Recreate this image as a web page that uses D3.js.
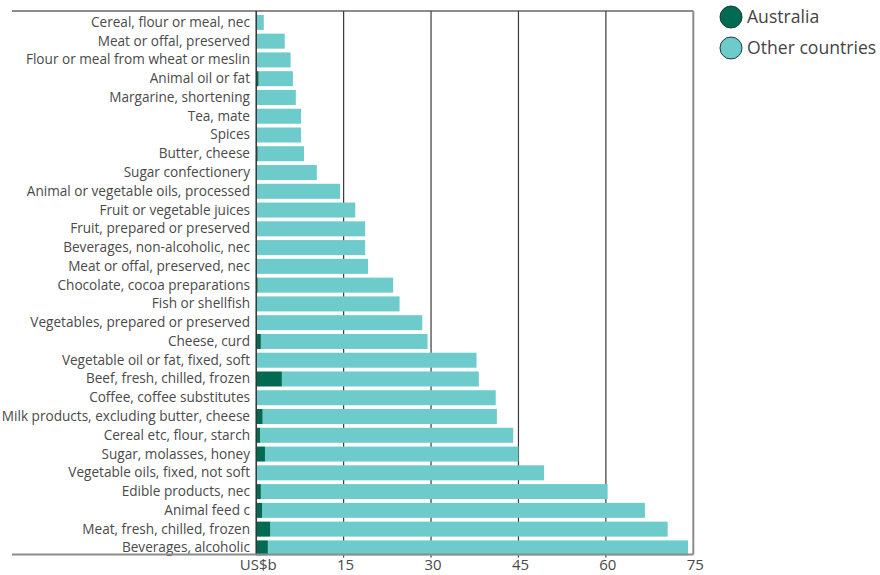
<!DOCTYPE html>
<html><head><meta charset="utf-8">
<script src="https://cdn.jsdelivr.net/npm/d3@7"></script>
<style>
html,body{margin:0;padding:0;background:#fff;}
svg{display:block;}
text{font-family:"Open Sans",sans-serif;}
</style></head>
<body>
<script>
const categories = [
  "Cereal, flour or meal, nec","Meat or offal, preserved","Flour or meal from wheat or meslin",
  "Animal oil or fat","Margarine, shortening","Tea, mate","Spices","Butter, cheese",
  "Sugar confectionery","Animal or vegetable oils, processed","Fruit or vegetable juices",
  "Fruit, prepared or preserved","Beverages, non-alcoholic, nec","Meat or offal, preserved, nec",
  "Chocolate, cocoa preparations","Fish or shellfish","Vegetables, prepared or preserved",
  "Cheese, curd","Vegetable oil or fat, fixed, soft","Beef, fresh, chilled, frozen",
  "Coffee, coffee substitutes","Milk products, excluding butter, cheese","Cereal etc, flour, starch",
  "Sugar, molasses, honey","Vegetable oils, fixed, not soft","Edible products, nec","Animal feed c",
  "Meat, fresh, chilled, frozen","Beverages, alcoholic"
];
const australia = [0,0,0,0.4,0,0,0,0.25,0,0,0,0,0,0,0.25,0,0,0.8,0,4.4,0,1.1,0.65,1.5,0,0.8,1.0,2.4,2.0];
const otherCountries = [1.3,4.9,5.9,5.9,6.8,7.7,7.7,7.95,10.4,14.4,17.0,18.7,18.7,19.2,23.25,24.6,28.5,28.6,37.8,33.8,41.1,40.2,43.45,43.5,49.4,59.5,65.7,68.2,72.1];
const tickValues = [15,30,45,60,75];
const seriesNames = ["Australia","Other countries"];
const colors = ["#006a52","#6ecbcc"];

const W=880,H=575;
const svg=d3.select("body").append("svg").attr("width",W).attr("height",H);
const x=d3.scaleLinear().domain([0,75]).range([256.2,693.3]);
const y=d3.scaleBand().domain(categories).range([14.88,555.4]).paddingInner(0.2);
const frameTop=11, frameBottom=554.5, frameLeft=12;

// top frame line
svg.append("line").attr("x1",frameLeft).attr("x2",x(75)).attr("y1",frameTop).attr("y2",frameTop)
  .attr("stroke","#8c8c8c").attr("stroke-width",2);

// gridlines
const grid=svg.append("g");
tickValues.forEach(v=>{
  grid.append("line").attr("x1",x(v)).attr("x2",x(v)).attr("y1",frameTop).attr("y2",v===75?frameBottom:frameBottom+3)
    .attr("stroke",v===75?"#8c8c8c":"#3a3a3a").attr("stroke-width",v===75?2:1.2);
});

// bars
const data=categories.map((c,i)=>({c,a:australia[i],o:otherCountries[i]}));
const rows=svg.append("g").selectAll("g").data(data).join("g");
rows.append("rect").attr("x",d=>x(d.a)).attr("y",d=>y(d.c)).attr("width",d=>x(d.a+d.o)-x(d.a))
  .attr("height",y.bandwidth()).attr("fill",colors[1]);
rows.append("rect").attr("x",x(0)).attr("y",d=>y(d.c)).attr("width",d=>x(d.a)-x(0))
  .attr("height",y.bandwidth()).attr("fill",colors[0]);

// category labels
svg.append("g").selectAll("text").data(categories).join("text")
  .attr("x",250).attr("y",d=>y(d)+y.bandwidth()/2).attr("dy","0.33em")
  .attr("text-anchor","end").attr("font-size",13.6).attr("fill","#4a4a4a").text(d=>d);

// zero axis
svg.append("line").attr("x1",x(0)).attr("x2",x(0)).attr("y1",frameTop).attr("y2",frameBottom)
  .attr("stroke","#333").attr("stroke-width",1.5);
// bottom frame line
svg.append("line").attr("x1",frameLeft).attr("x2",x(75)).attr("y1",frameBottom).attr("y2",frameBottom)
  .attr("stroke","#8c8c8c").attr("stroke-width",2);

// tick labels
const tl=svg.append("g");
tl.append("text").attr("x",x(0)+2).attr("y",570).attr("text-anchor","middle").attr("font-size",15)
  .attr("fill","#4a4a4a").text("US$b");
tickValues.forEach(v=>{
  tl.append("text").attr("x",x(v)+2).attr("y",570).attr("text-anchor","middle").attr("font-size",15)
    .attr("fill","#4a4a4a").text(v);
});

// legend
const lg=svg.append("g");
seriesNames.forEach((n,i)=>{
  const cy=17+i*31;
  lg.append("circle").attr("cx",731).attr("cy",cy).attr("r",11).attr("fill",colors[i]).attr("stroke","#1f3b36").attr("stroke-width",1);
  lg.append("text").attr("x",747).attr("y",cy).attr("dy","0.35em").attr("font-size",17.6).attr("fill","#444").text(n);
});
</script>
</body></html>
